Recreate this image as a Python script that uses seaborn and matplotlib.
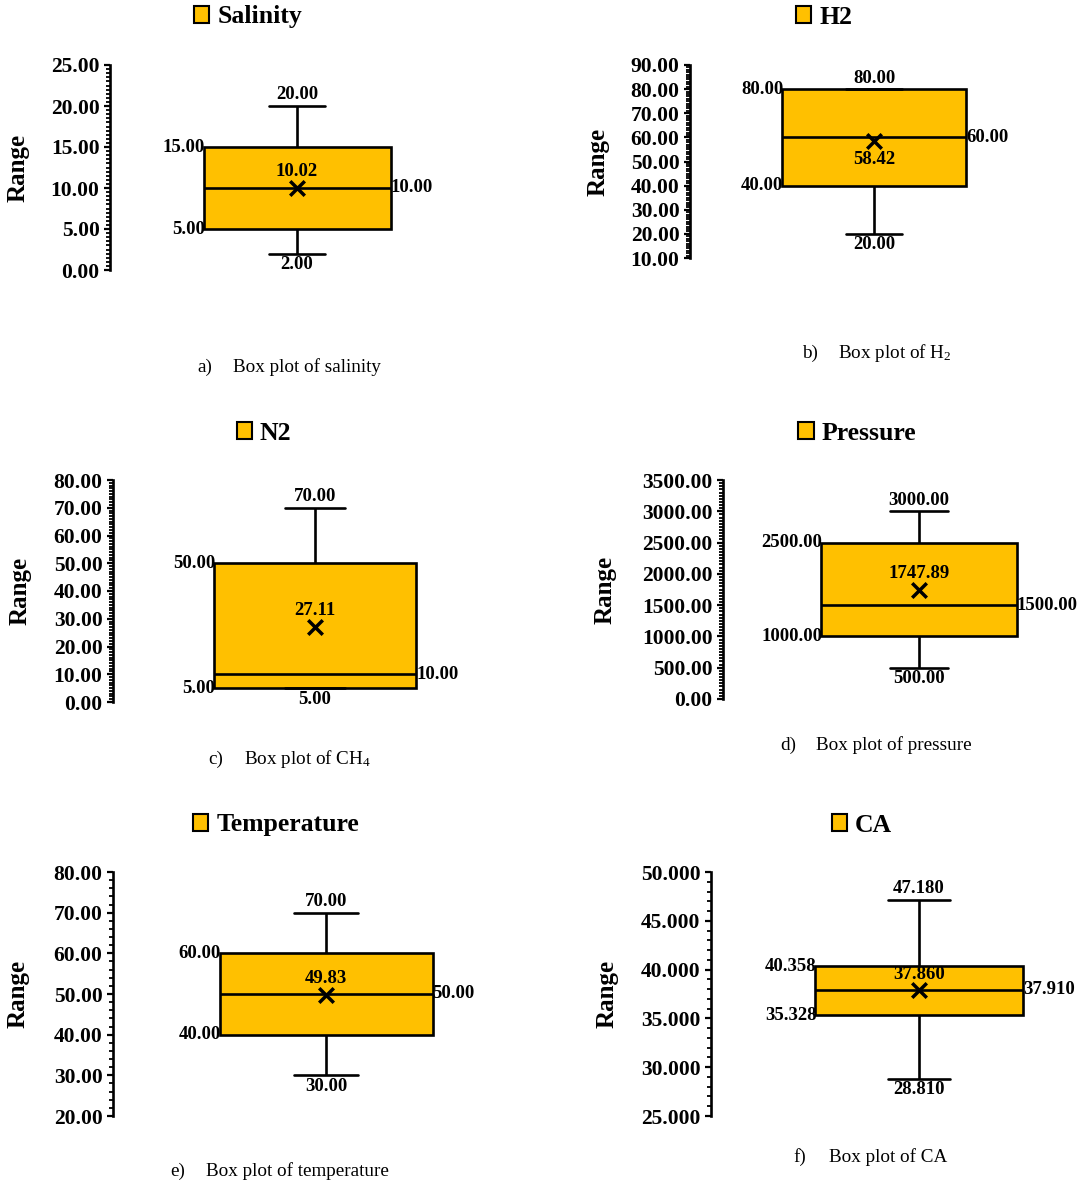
import numpy as np
import pandas as pd
import matplotlib
matplotlib.use("Agg")
import matplotlib.pyplot as plt
import seaborn as sns
from matplotlib.patches import Patch
from matplotlib.ticker import MultipleLocator, FormatStrFormatter

# ---- data: five-number summaries and means of each property ----
names = ["Salinity", "H2", "N2", "Pressure", "Temperature", "CA"]
minimum = [2.00, 20.00, 5.00, 500.00, 30.00, 28.810]
q1 = [5.00, 40.00, 5.00, 1000.00, 40.00, 35.328]
median = [10.00, 60.00, 10.00, 1500.00, 50.00, 37.910]
q3 = [15.00, 80.00, 50.00, 2500.00, 60.00, 40.358]
maximum = [20.00, 80.00, 70.00, 3000.00, 70.00, 47.180]
mean = [10.02, 58.42, 27.11, 1747.89, 49.83, 37.860]

y_limits = [(0, 25), (10, 90), (0, 80), (0, 3500), (20, 80), (25, 50)]
major_step = [5, 10, 10, 500, 10, 5]
minor_step = [0.5, 1, 1, 50, 2, 1]
decimals = [2, 2, 2, 2, 2, 3]

caption_letters = ["a)", "b)", "c)", "d)", "e)", "f)"]
caption_texts = ["Box plot of salinity", r"Box plot of H$_2$", r"Box plot of CH$_4$",
                 "Box plot of pressure", "Box plot of temperature", "Box plot of CA"]

# ---- layout (pixels) ----
W, H = 1088, 1184
spine_x = [110, 690, 113, 723, 113, 711]
half_w = [187, 184, 202, 196, 213, 208]
top_y = [65, 65, 480, 480, 872, 872]
bot_y = [270, 258, 702, 699, 1116, 1116]
ylabel_x = [18, 598, 20, 605, 18, 607]
legend_xy = [(248, 17), (824, 17), (264, 433), (857, 433), (276, 825), (862, 825)]
caption_xy = [(197, 233, 367), (802, 838, 353), (208, 244, 759),
              (780, 816, 745), (170, 206, 1171), (793, 829, 1157)]
mean_above = [True, False, True, True, True, True]

BOX = "#FFC000"
SERIF = "Liberation Serif"

sns.set_theme(style="ticks")
plt.rcParams["font.family"] = [SERIF, "DejaVu Serif"]
plt.rcParams["text.color"] = "black"
plt.rcParams["axes.labelcolor"] = "black"
plt.rcParams["ytick.color"] = "black"
plt.rcParams["ytick.labelcolor"] = "black"
plt.rcParams["mathtext.fontset"] = "custom"
plt.rcParams["mathtext.rm"] = SERIF
plt.rcParams["mathtext.it"] = SERIF + ":italic"
plt.rcParams["mathtext.bf"] = SERIF + ":bold"

fig = plt.figure(figsize=(W / 100, H / 100), dpi=100)
fig.patch.set_facecolor("white")


def px(x, y):
    return x / W, 1 - y / H


for i, name in enumerate(names):
    left = spine_x[i] / W
    width = 2 * half_w[i] / W
    bottom = 1 - bot_y[i] / H
    height = (bot_y[i] - top_y[i]) / H
    ax = fig.add_axes([left, bottom, width, height])
    ax.set_facecolor("white")

    values = pd.DataFrame({"value": [minimum[i], q1[i], median[i], q3[i], maximum[i]]})
    sns.boxplot(data=values, y="value", ax=ax, width=1.0, whis=(0, 100),
                color=BOX, saturation=1, linecolor="black", linewidth=1.9,
                capwidths=0.3)
    ax.scatter([0], [mean[i]], marker="x", s=110, linewidths=2.5,
               color="black", zorder=6)

    ax.set_xlim(-1, 1)
    ax.set_ylim(*y_limits[i])
    ax.set_xticks([])
    ax.set_xlabel("")
    ax.yaxis.set_major_locator(MultipleLocator(major_step[i]))
    ax.yaxis.set_minor_locator(MultipleLocator(minor_step[i]))
    ax.yaxis.set_major_formatter(FormatStrFormatter(f"%.{decimals[i]}f"))
    ax.tick_params(axis="y", which="major", direction="out", length=4.5,
                   width=1.6, color="black", pad=3, labelsize=15.5)
    ax.tick_params(axis="y", which="minor", direction="out", length=2.8,
                   width=1.3, color="black")
    for lab in ax.get_yticklabels():
        lab.set_fontweight("bold")
        lab.set_color("black")
    sns.despine(ax=ax, top=True, right=True, bottom=True)
    ax.spines["left"].set_linewidth(1.9)
    ax.spines["left"].set_color("black")

    ax.set_ylabel("Range", fontsize=18, fontweight="bold", color="black", va="center")
    ax.yaxis.set_label_coords((ylabel_x[i] - spine_x[i]) / (2 * half_w[i]), 0.5)

    fmt = f"{{:.{decimals[i]}f}}"
    lbl = dict(fontsize=13.5, fontweight="bold", color="black")
    # quartile labels on the left edge of the box
    ax.annotate(fmt.format(q3[i]), (-0.5, q3[i]), xytext=(1, 0), textcoords="offset points",
                ha="right", va="center", **lbl)
    ax.annotate(fmt.format(q1[i]), (-0.5, q1[i]), xytext=(1, 0), textcoords="offset points",
                ha="right", va="center", **lbl)
    # median on the right edge
    ax.annotate(fmt.format(median[i]), (0.5, median[i]), xytext=(0, 0), textcoords="offset points",
                ha="left", va="center", **lbl)
    # whisker ends
    ax.annotate(fmt.format(maximum[i]), (0, maximum[i]), xytext=(0, 8), textcoords="offset points",
                ha="center", va="center", **lbl)
    ax.annotate(fmt.format(minimum[i]), (0, minimum[i]), xytext=(0, -8), textcoords="offset points",
                ha="center", va="center", **lbl)
    # mean
    dy = 11.5 if mean_above[i] else -13.5
    ax.annotate(fmt.format(mean[i]), (0, mean[i]), xytext=(0, dy), textcoords="offset points",
                ha="center", va="center", **lbl)

    # legend above each panel
    lx, ly = legend_xy[i]
    leg = ax.legend(handles=[Patch(facecolor=BOX, edgecolor="black", linewidth=1.5)],
                    labels=[name], loc="center", bbox_to_anchor=px(lx, ly),
                    bbox_transform=fig.transFigure, frameon=False,
                    prop={"family": SERIF, "weight": "bold", "size": 18.5},
                    handlelength=0.6, handleheight=0.6, handletextpad=0.3,
                    borderpad=0, borderaxespad=0)
    for t in leg.get_texts():
        t.set_color("black")

    # caption below each panel
    cx1, cx2, cy = caption_xy[i]
    fig.text(*px(cx1, cy), caption_letters[i], ha="left", va="center",
             fontsize=13.8, color="black")
    fig.text(*px(cx2, cy), caption_texts[i], ha="left", va="center",
             fontsize=13.8, color="black")

fig.savefig("out.png", dpi=100, facecolor="white")
